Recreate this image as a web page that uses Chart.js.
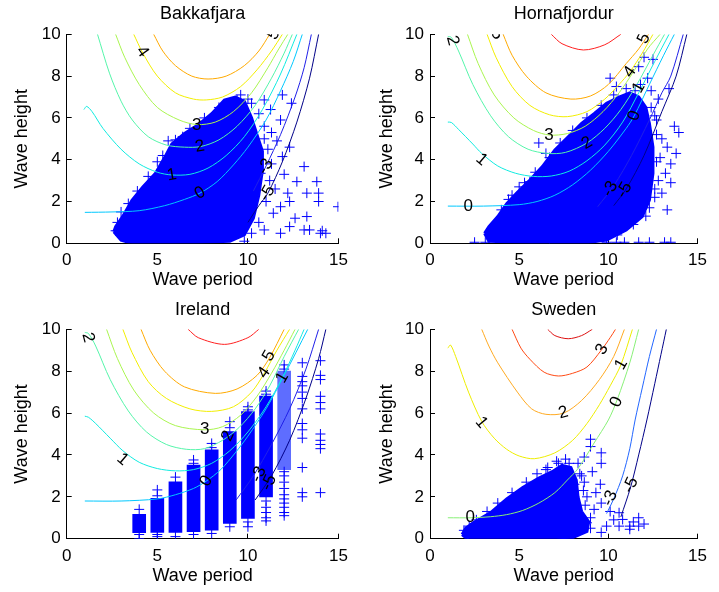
<!DOCTYPE html>
<html>
<head>
<meta charset="utf-8">
<script src="https://cdn.jsdelivr.net/npm/chart.js@4.4.1/dist/chart.umd.min.js"></script>
<style>
  body { margin: 0; background: #fff; }
  .cell { position: absolute; }
</style>
</head>
<body>
<div class="cell" style="left:0;top:0"><canvas id="bak" width="360" height="296"></canvas></div>
<div class="cell" style="left:360px;top:0"><canvas id="hor" width="359" height="296"></canvas></div>
<div class="cell" style="left:0;top:296px"><canvas id="ire" width="360" height="296"></canvas></div>
<div class="cell" style="left:360px;top:296px"><canvas id="swe" width="359" height="296"></canvas></div>
<script>
// ---- shared axis ticks ----
const periodTicks = [0, 5, 10, 15];
const heightTicks = [0, 2, 4, 6, 8, 10];

// ---- Bakkafjara ----
const bakLevels = ['5', '4', '3', '2', '1', '0', '-3', '-5'];
const bakContours = [
  [[4.8,10],[5.3,9.2],[6.0,8.5],[6.9,8.0],[7.8,7.86],[8.8,8.0],[9.8,8.5],[10.6,9.2],[11.2,10]],
  [[3.7,10],[4.2,9.1],[5.0,8.0],[6.0,7.2],[7.0,6.9],[7.7,6.86],[8.6,7.0],[9.6,7.5],[10.5,8.3],[11.3,9.2],[11.9,10]],
  [[2.7,10],[3.2,8.9],[4.0,7.6],[5.0,6.5],[6.2,5.9],[7.2,5.68],[8.2,5.8],[9.2,6.3],[10.2,7.2],[11.1,8.4],[11.7,9.3],[12.2,10]],
  [[1.7,10],[2.36,8.14],[3.0,6.8],[3.62,5.9],[4.5,5.1],[5.5,4.7],[6.5,4.6],[7.4,4.63],[8.4,4.95],[9.4,5.6],[10.4,6.6],[11.3,7.9],[12.0,9.1],[12.45,10]],
  [[0.95,6.4],[1.1,6.55],[1.4,6.3],[2.0,5.5],[3.0,4.5],[4.0,3.8],[5.0,3.4],[5.8,3.27],[6.8,3.3],[7.8,3.6],[8.8,4.2],[9.8,5.1],[10.8,6.4],[11.8,8.1],[12.7,10]],
  [[1.0,1.48],[2.5,1.5],[4.0,1.56],[5.4,1.8],[6.5,2.1],[7.35,2.4],[8.3,2.95],[9.2,3.75],[10.0,4.6],[11.0,5.9],[11.8,7.3],[12.5,8.7],[13.0,10]],
  [[10.3,2.5],[11.0,3.7],[11.8,5.2],[12.6,7.0],[13.1,8.4],[13.5,10]],
  [[10.0,1.0],[10.6,1.8],[11.1,2.4],[11.9,3.9],[12.7,5.8],[13.4,7.9],[13.9,10]]
];
const bakLabels = [
  [11.43, 10.0, '5', -60], [4.17, 9.17, '4', 55], [7.17, 5.66, '3', 0], [7.35, 4.63, '2', -10],
  [5.8, 3.27, '1', -10], [7.35, 2.4, '0', -30], [10.98, 3.67, '-3', -60], [11.07, 2.4, '-5', -60]
];
const bakBlob = [
  [2.6,0.55],[3.0,0.15],[3.6,0.0],[6.0,0.0],[9.0,0.1],[9.8,0.4],[10.3,1.2],[10.6,2.3],[10.8,3.5],
  [10.8,4.4],[10.5,5.2],[10.2,6.0],[9.8,6.8],[9.3,7.0],[8.7,6.85],[8.0,6.2],[7.3,5.7],[6.5,5.25],
  [5.8,4.75],[5.4,4.1],[4.9,3.35],[4.2,2.7],[3.6,2.05],[3.1,1.3],[2.7,0.8]
];
const bakPoints = [
  [11.9,7.1],[12.4,6.7],[11.25,6.4],[11.8,5.9],[10.9,6.86],[11.6,4.9],[12.3,4.6],[11.9,4.15],[13.1,3.67],
  [12.7,2.95],[13.8,2.95],[13.9,2.4],[13.25,2.4],[12.2,2.4],[12.3,2.0],[14.97,1.75],[13.9,2.0],[13.25,1.28],
  [13.1,0.64],[12.3,0.8],[11.8,0.48],[10.9,0.64],[10.2,0.48],[14.0,0.48],[14.3,0.48],[13.4,0.64],[11.4,1.44],
  [10.7,3.35],[11.8,1.75],[9.4,6.86],[10.2,6.7],[4.2,2.23],[4.7,2.7],[6.2,4.6],[7.1,4.47],[8.3,5.6],[9.1,6.5],
  [11.2,3.0],[11.5,2.6],[12.0,3.3],[12.6,1.2],[14.1,0.6],[11.3,5.3],[10.9,5.6],[3.9,2.5],[5.3,4.2],[2.7,0.6],
  [5.0,3.9],[5.6,4.9],[6.0,4.95],[6.8,5.5],[7.6,6.0],[8.4,6.5],[9.6,7.1],[10.0,6.9],[3.4,1.9],[3.0,1.5],
  [2.8,1.0],[4.5,3.2],[6.4,5.1],[10.6,6.2],[10.9,5.0],[11.1,4.5],[11.0,2.0],[10.6,1.0],[9.8,0.1],[11.3,3.8]
];

// ---- Hornafjordur ----
const horLevels = ['6', '5', '4', '3', '2', '1', '0', '-3', '-5'];
const horContours = [
  [[6.8,10],[7.4,9.55],[8.6,9.25],[9.8,9.5],[10.7,10]],
  [[4.1,10],[4.6,9.0],[5.4,8.0],[6.5,7.2],[7.9,6.9],[9.0,7.05],[10.0,7.6],[11.0,8.6],[11.7,9.3],[12.25,10]],
  [[3.2,10],[3.7,8.9],[4.6,7.5],[5.6,6.6],[6.7,6.15],[7.7,6.06],[8.8,6.3],[9.8,6.9],[10.6,7.6],[11.2,8.2],[11.9,9.1],[12.5,10]],
  [[2.1,10],[2.7,8.6],[3.6,7.1],[4.7,6.0],[5.8,5.4],[6.7,5.18],[7.7,5.25],[8.7,5.6],[9.7,6.3],[10.6,7.2],[11.4,8.2],[12.2,9.3],[12.9,10]],
  [[1.0,9.9],[1.2,9.85],[1.6,9.2],[2.4,7.6],[3.4,6.1],[4.4,5.1],[5.5,4.5],[6.6,4.3],[7.6,4.35],[8.8,4.8],[9.8,5.5],[10.7,6.4],[11.6,7.6],[12.5,9.0],[13.15,10]],
  [[1.0,5.8],[1.2,5.78],[1.6,5.45],[2.4,4.75],[2.9,4.3],[3.8,3.7],[4.8,3.35],[5.8,3.2],[6.8,3.22],[7.8,3.45],[8.8,3.95],[9.8,4.7],[10.8,5.8],[11.7,7.2],[12.6,8.7],[13.4,10]],
  [[1.0,1.78],[3.0,1.78],[5.0,1.85],[6.0,2.0],[7.0,2.3],[8.0,2.8],[9.0,3.5],[10.0,4.4],[11.0,5.5],[11.45,6.1],[12.3,7.6],[13.1,9.0],[13.7,10]],
  [[9.4,1.75],[10.3,2.75],[11.3,4.2],[12.3,5.9],[13.0,7.2],[13.5,8.0],[14.2,10]],
  [[10.3,1.8],[11.0,2.6],[12.0,4.2],[13.0,6.3],[13.8,8.0],[14.4,10]]
];
const horLabels = [
  [1.26, 9.7, '2', 75], [3.75, 10.0, '5', 60], [12.0, 9.8, '5', -65], [11.2, 8.2, '4', -55],
  [11.7, 7.45, '1', -60], [11.45, 6.1, '0', -70], [6.67, 5.18, '3', 0], [8.8, 4.8, '2', -30],
  [2.9, 4.0, '1', 40], [2.15, 1.75, '0', 0], [10.1, 2.6, '-3', -60], [10.9, 2.55, '-5', -60]
];
const horBlob = [
  [3.06,0.48],[3.3,0.1],[6.0,0.03],[8.8,0.03],[9.9,0.16],[11.0,0.64],[11.9,1.28],[12.3,2.07],[12.5,3.35],
  [12.5,4.6],[12.3,5.74],[12.1,6.5],[11.7,7.0],[11.2,7.2],[10.6,7.0],[9.9,6.7],[9.2,6.2],[8.5,5.74],
  [7.75,5.1],[7.0,4.47],[6.3,3.67],[5.6,3.03],[4.86,2.4],[4.3,1.9],[3.8,1.28],[3.3,0.8]
];
const horPoints = [
  [10.1,7.9],[10.45,7.5],[11.7,8.45],[12.0,8.9],[12.5,8.8],[13.4,7.4],[12.4,6.5],[12.7,5.9],[13.7,5.6],
  [13.95,5.3],[13.3,4.6],[13.5,3.8],[13.2,3.35],[13.5,2.9],[13.0,2.4],[13.3,1.6],[12.1,1.3],[5.6,2.95],
  [6.1,4.8],[6.5,4.3],[2.5,0.05],[3.1,0.05],[6.7,0.05],[9.9,0.05],[10.45,0.05],[10.9,0.05],[11.7,0.05],
  [12.3,0.05],[13.15,0.05],[13.5,0.05],[12.8,6.9],[13.0,5.0],[12.9,4.1],[12.8,3.0],[12.6,2.2],[11.8,7.6],
  [12.2,7.9],[4.4,2.1],[5.0,2.7],[3.5,0.3],[12.4,7.3],[13.8,4.3],
  [4.0,1.6],[4.6,2.3],[5.3,2.9],[5.9,3.4],[6.7,4.1],[7.3,4.8],[8.0,5.4],[8.8,6.0],[9.6,6.6],[10.3,7.1],
  [11.0,7.4],[11.5,7.3],[12.6,6.1],[12.7,5.2],[12.7,3.9],[12.6,2.6],[12.3,1.7],[11.4,0.9],[10.5,0.4]
];

// ---- Ireland ----
const ireLevels = ['6', '5', '4', '3', '2', '1', '0', '-3', '-5'];
const ireContours = [
  [[6.7,10],[7.26,9.6],[8.7,9.28],[10.0,9.6],[10.6,10]],
  [[4.1,10],[4.6,9.0],[5.4,8.0],[6.5,7.25],[8.2,6.94],[9.4,7.15],[10.5,7.8],[11.2,8.65],[12.0,10]],
  [[3.1,10],[3.6,8.9],[4.5,7.5],[5.5,6.7],[6.8,6.2],[8.0,6.08],[9.2,6.3],[10.2,7.0],[10.9,7.9],[11.6,9.0],[12.3,10]],
  [[2.2,10],[2.8,8.6],[3.7,7.1],[4.8,6.0],[6.0,5.4],[7.6,5.2],[8.6,5.35],[9.6,5.9],[10.5,6.8],[11.3,7.9],[12.0,9.0],[12.6,10]],
  [[1.0,9.85],[1.2,9.8],[1.6,9.2],[2.4,7.6],[3.4,6.1],[4.4,5.1],[5.5,4.5],[6.6,4.27],[7.6,4.3],[8.6,4.7],[9.5,5.3],[10.4,6.2],[11.2,7.3],[12.0,8.7],[12.8,10]],
  [[1.0,5.85],[1.2,5.8],[1.6,5.5],[2.4,4.8],[3.1,4.2],[4.0,3.65],[5.0,3.35],[6.0,3.24],[7.0,3.3],[8.0,3.6],[9.0,4.2],[10.0,5.1],[11.0,6.3],[11.9,7.7],[12.6,9.0],[13.1,10]],
  [[1.0,1.8],[3.0,1.8],[5.0,1.9],[6.0,2.1],[7.0,2.4],[7.7,2.75],[8.5,3.3],[9.3,4.1],[10.0,4.9],[11.0,6.2],[12.0,7.8],[13.3,10]],
  [[9.35,1.85],[10.3,3.0],[11.3,4.5],[12.3,6.2],[13.2,8.1],[13.9,10]],
  [[10.4,1.85],[11.3,3.0],[12.3,4.7],[13.2,6.7],[13.9,8.6],[14.3,10]]
];
const ireLabels = [
  [1.18, 9.6, '2', 75], [11.16, 8.73, '5', -60], [10.9, 7.93, '4', -55], [11.9, 7.7, '1', -60],
  [7.62, 5.22, '3', 0], [8.9, 4.9, '2', -65], [3.09, 3.79, '1', 40], [7.71, 2.75, '0', -60],
  [10.6, 3.07, '-3', -65], [11.16, 2.68, '-5', -65]
];
const ireColX = [4, 5, 6, 7, 8, 9, 10, 11, 12];
const ireColLow = [0.29, 0.3, 0.3, 0.33, 0.41, 0.73, 0.97, 2.0, 3.3];
const ireColHigh = [1.16, 1.93, 2.72, 3.52, 4.24, 5.11, 6.07, 6.81, 8.0];
const irePoints = [
  [4,1.4],[4,0.2],[4,0.0],[5,2.33],[5,2.05],[5,0.1],[5,0.2],[6,2.94],[6,0.1],[7,3.76],[7,3.6],[7,0.2],
  [8,4.55],[8,4.35],[8,0.25],[9,5.59],[9,5.3],[9,0.57],[10,6.3],[10,6.15],[10,0.57],[10,0.8],
  [11,7.05],[11,6.9],[11,1.8],[11,1.5],[11,1.25],[11,1.0],[11,0.85],
  [12,8.3],[12,8.1],[12,3.2],[12,3.0],[12,2.7],[12,2.4],[12,2.1],[12,1.9],[12,1.7],[12,1.5],[12,1.25],[12,1.1],
  [13,8.4],[13,7.75],[13,7.5],[13,7.3],[13,7.0],[13,6.7],[13,6.2],[13,5.5],[13,5.2],[13,4.8],[13,3.4],[13,2.2],[13,2.0],
  [14,8.5],[14,7.8],[14,7.6],[14,6.8],[14,6.5],[14,6.2],[14,5.0],[14,4.7],[14,4.5],[14,4.3],[14,2.2]
];

// ---- Sweden ----
const sweLevels = ['4', '3', '2', '1', '0', '-3', '-5'];
const sweContours = [
  [[6.6,10],[7.0,9.7],[7.75,9.55],[8.5,9.7],[9.1,10]],
  [[4.6,10],[5.1,9.1],[5.6,8.57],[6.4,7.95],[7.2,7.77],[8.0,7.9],[8.8,8.2],[9.6,9.0],[10.1,9.6],[10.4,10]],
  [[2.9,10],[3.3,9.2],[3.8,8.4],[4.9,7.0],[5.7,6.2],[6.5,5.94],[7.5,6.0],[8.5,6.6],[9.5,7.6],[10.3,8.7],[10.9,10]],
  [[1.0,9.1],[1.15,9.25],[1.44,8.7],[2.16,7.0],[2.9,5.6],[3.6,4.8],[4.3,4.27],[5.0,3.95],[5.85,3.82],[7.0,4.1],[8.0,4.7],[8.8,5.5],[9.5,6.4],[10.1,7.3],[10.7,8.3],[11.35,10]],
  [[1.0,1.0],[2.3,1.0],[3.4,1.05],[4.3,1.15],[5.2,1.35],[6.1,1.7],[7.0,2.2],[7.7,2.8],[8.3,3.35],[9.2,4.57],[10.0,5.67],[10.5,6.65],[11.2,8.4],[11.7,10]],
  [[9.9,1.2],[10.3,1.9],[10.8,3.0],[11.2,4.3],[11.5,5.67],[11.9,7.2],[12.3,8.7],[12.7,10]],
  [[10.7,1.04],[11.25,2.47],[11.7,4.0],[12.16,5.67],[12.6,7.4],[12.95,8.8],[13.25,10]]
];
const sweLabels = [
  [9.64, 9.04, '3', -60], [10.72, 8.33, '1', -60], [10.45, 6.53, '0', -65], [7.48, 6.02, '2', -15],
  [2.88, 5.54, '1', 50], [2.25, 1.0, '0', 0], [10.1, 1.93, '-3', -65], [11.26, 2.56, '-5', -65]
];
const sweBlob = [
  [1.8,0.2],[2.2,-0.1],[7.0,-0.1],[8.0,0.05],[8.8,0.35],[8.9,0.8],[8.5,1.3],[8.3,2.0],[8.2,2.8],
  [7.9,3.4],[7.4,3.5],[6.85,3.2],[6.1,2.9],[5.2,2.45],[4.3,1.9],[3.4,1.25],[2.4,0.75],[2.0,0.5]
];
const swePoints = [
  [9.0,4.75],[9.0,4.4],[9.6,4.1],[9.6,3.6],[8.65,3.9],[8.3,3.6],[9.1,3.2],[8.65,2.7],[9.55,2.6],[8.8,2.0],
  [7.9,2.2],[9.2,1.4],[10.1,1.3],[10.6,1.24],[11.2,0.6],[11.7,1.0],[11.7,0.6],[9.9,0.6],[8.8,0.76],[9.6,0.3],
  [10.6,0.6],[11.2,0.45],[10.8,0.92],[8.4,3.1],[9.3,2.2],[9.6,1.7],[10.3,0.9],[11.4,0.8],[12.0,0.7],[8.1,2.6],
  [7.6,3.8],[9.0,1.0],[7.2,3.6],[6.5,3.3],
  [2.6,0.9],[3.2,1.3],[3.8,1.7],[4.6,2.2],[5.4,2.7],[6.0,3.1],[6.6,3.4],[7.1,3.7],[7.8,3.6],[8.5,3.0],
  [8.6,2.3],[8.7,1.6],[9.0,0.5],[1.9,0.4],[2.2,0.6]
];

// ---- styles ----
const upperColors = ['#ff2020', '#ffaa00', '#f2ee00', '#aaf550', '#55f5aa', '#11ebe0', '#00c8ff', '#2020e8', '#000088'];
const bakColors = upperColors.slice(1);
const sweColors = ['#dd1111', '#ff4a14', '#ffaa22', '#eeee00', '#88f077', '#2266ff', '#000088'];
const ireColFill = ['#0000ff', '#0000ff', '#0000ff', '#0000ff', '#0000ff', '#0000ff', '#0000ff', '#0000ff', 'rgba(40,60,255,0.75)'];
const blue = '#0000ff';

Chart.defaults.font.family = '"Liberation Sans", Arial, Helvetica, sans-serif';
Chart.defaults.color = '#000';
Chart.defaults.animation = false;

const toXY = pts => pts.map(p => ({x: p[0], y: p[1]}));

function contourSets(contours, colors, levels) {
  return contours.map((c, i) => ({
    type: 'line',
    label: levels[i],
    data: toXY(c),
    borderColor: colors[i],
    borderWidth: 1,
    pointRadius: 0,
    tension: 0.3,
    fill: false
  }));
}

function crossSet(pts) {
  return {
    type: 'scatter',
    data: toXY(pts),
    pointStyle: 'cross',
    pointRadius: 5,
    borderColor: blue,
    backgroundColor: blue,
    borderWidth: 1
  };
}

function blobSet(pts) {
  return {
    type: 'line',
    data: toXY(pts.concat([pts[0]])),
    fill: 'shape',
    backgroundColor: blue,
    borderColor: blue,
    borderWidth: 3,
    pointRadius: 0,
    tension: 0
  };
}

function makeChart(id, title, box, datasets, labels) {
  const labelPlugin = {
    id: 'contourLabels',
    afterDatasetsDraw(chart) {
      const {ctx, chartArea, scales: {x, y}} = chart;
      ctx.save();
      ctx.beginPath();
      ctx.rect(chartArea.left, chartArea.top, chartArea.width, chartArea.height);
      ctx.clip();
      ctx.font = '17px "Liberation Sans", Arial, sans-serif';
      ctx.fillStyle = '#000';
      ctx.textAlign = 'center';
      ctx.textBaseline = 'middle';
      labels.forEach(([lx, ly, txt, ang]) => {
        ctx.save();
        ctx.translate(x.getPixelForValue(lx), y.getPixelForValue(ly));
        ctx.rotate(ang * Math.PI / 180);
        ctx.fillText(txt, 0, 0);
        ctx.restore();
      });
      ctx.restore();
    }
  };

  return new Chart(document.getElementById(id), {
    type: 'scatter',
    data: { datasets },
    plugins: [labelPlugin],
    options: {
      responsive: false,
      animation: false,
      layout: { padding: { left: 0, right: box.right, top: 0, bottom: 0 } },
      plugins: {
        legend: { display: false },
        tooltip: { enabled: false },
        title: {
          display: true,
          text: title,
          fullSize: false,
          color: '#000',
          font: { size: 18, weight: 'normal' },
          padding: { top: 3, bottom: box.top - 24.6 }
        }
      },
      scales: {
        x: {
          type: 'linear',
          min: 0, max: 15,
          offset: false,
          afterBuildTicks: s => { s.ticks = periodTicks.map(v => ({value: v})); },
          afterFit: s => { s.height = box.bottom; },
          ticks: { font: { size: 17 }, color: '#000', padding: 12 },
          grid: { drawOnChartArea: false, drawTicks: true, tickLength: -5, color: '#000', offset: false },
          border: { display: true, color: '#000', width: 1 },
          title: { display: true, text: 'Wave period', font: { size: 18 }, color: '#000', padding: { top: 5, bottom: 5 } }
        },
        y: {
          type: 'linear',
          min: 0, max: 10,
          afterBuildTicks: s => { s.ticks = heightTicks.map(v => ({value: v})); },
          afterFit: s => { s.width = box.left; },
          ticks: { font: { size: 17 }, color: '#000', padding: 11 },
          grid: { drawOnChartArea: false, drawTicks: true, tickLength: -5, color: '#000' },
          border: { display: true, color: '#000', width: 1 },
          title: { display: true, text: 'Wave height', font: { size: 18 }, color: '#000', padding: { top: box.ytitle, bottom: box.ytitle } }
        }
      }
    }
  });
}

makeChart('bak', 'Bakkafjara', { left: 66.7, right: 17.7, top: 34.3, bottom: 52.7, ytitle: 11.7 },
  [...contourSets(bakContours, bakColors, bakLevels), crossSet(bakPoints), blobSet(bakBlob)], bakLabels);

makeChart('hor', 'Hornafjordur', { left: 70, right: 11.3, top: 34.3, bottom: 52.7, ytitle: 16 },
  [...contourSets(horContours, upperColors, horLevels), crossSet(horPoints), blobSet(horBlob)], horLabels);

makeChart('ire', 'Ireland', { left: 66.7, right: 17.7, top: 33.3, bottom: 53.3, ytitle: 11.7 },
  [...contourSets(ireContours, upperColors, ireLevels), crossSet(irePoints), {
    type: 'bar',
    data: ireColX.map((x, i) => ({ x: x, y: [ireColLow[i], ireColHigh[i]] })),
    backgroundColor: ireColFill,
    borderWidth: 0,
    barThickness: 13,
    grouped: false
  }], ireLabels);

makeChart('swe', 'Sweden', { left: 70, right: 11.3, top: 33.3, bottom: 53.3, ytitle: 16 },
  [...contourSets(sweContours, sweColors, sweLevels), crossSet(swePoints), blobSet(sweBlob)], sweLabels);
</script>
</body>
</html>
